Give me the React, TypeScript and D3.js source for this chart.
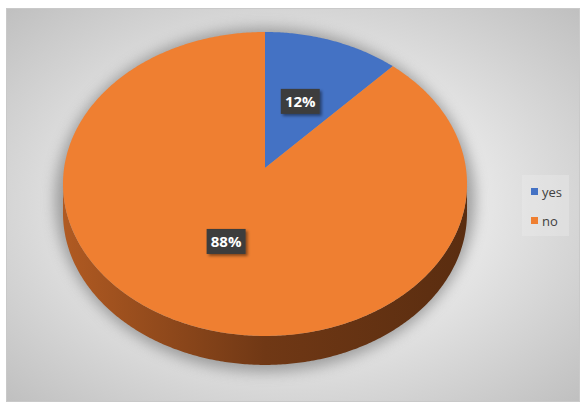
import React from "react";
import * as d3 from "d3";

const categories = ["yes", "no"];
const values = [12, 88];
const labels = ["12%", "88%"];
const colors = ["#4472C4", "#EF7F31"];
const sideColors = [
  ["#3a5f9e", "#25406e"],
  ["#b05a22", "#5a2d10"],
];

const W = 588;
const H = 407;
const cx = 265;
const vy = 168; // projected centre of the pie
const k = 0.105; // perspective strength
const s = 200.9; // horizontal radius scale
const a = 150.3; // vertical radius scale
const depth = 29;

function proj(theta: number, f = 1): [number, number] {
  const d = 1 + k * f * Math.cos(theta);
  return [cx + (s * f * Math.sin(theta)) / d, vy - (a * f * Math.cos(theta)) / d];
}

function arcPoints(t0: number, t1: number, dy = 0): [number, number][] {
  const n = Math.max(4, Math.ceil(Math.abs(t1 - t0) / 0.01));
  const pts: [number, number][] = [];
  for (let i = 0; i <= n; i++) {
    const t = t0 + ((t1 - t0) * i) / n;
    const [x, y] = proj(t);
    pts.push([x, y + dy]);
  }
  return pts;
}

export default function App() {
  const pie = d3.pie<number>().sort(null).value((d) => d).startAngle(0).endAngle(2 * Math.PI);
  const arcs = pie(values);
  const line = d3.line();

  const visLo = Math.acos(-k);
  const visHi = 2 * Math.PI - visLo;

  return (
    <svg width={W} height={H} style={{ position: "absolute", left: 0, top: 0 }}>
      <defs>
        <radialGradient id="bg" cx="50%" cy="50%" r="75%">
          <stop offset="0" stopColor="#efefef" />
          <stop offset="0.45" stopColor="#e6e6e6" />
          <stop offset="1" stopColor="#bbbbbb" />
        </radialGradient>
        <filter id="blur" x="-30%" y="-30%" width="160%" height="160%">
          <feGaussianBlur stdDeviation="7" />
        </filter>
        <filter id="lblShadow" x="-30%" y="-30%" width="160%" height="160%">
          <feDropShadow dx="2" dy="2" stdDeviation="1.5" floodColor="#000" floodOpacity="0.45" />
        </filter>
        {sideColors.map((c, i) => (
          <linearGradient key={i} id={`side${i}`} x1={cx - s} x2={cx + s} y1="0" y2="0" gradientUnits="userSpaceOnUse">
            <stop offset="0" stopColor={c[0]} />
            <stop offset="0.5" stopColor={d3.interpolateRgb(c[0], c[1])(0.75)} />
            <stop offset="1" stopColor={c[1]} />
          </linearGradient>
        ))}
      </defs>

      <rect x={0} y={0} width={W} height={H} fill="#ffffff" />
      <rect x={6.5} y={8.5} width={573} height={393} fill="url(#bg)" stroke="#c9c9c9" strokeWidth={1} />

      {/* pie shadow */}
      <ellipse cx={cx} cy={200} rx={210} ry={172} fill="#6f6f6f" opacity={0.6} filter="url(#blur)" />

      {/* side walls */}
      {arcs.map((d, i) => {
        const t0 = Math.max(d.startAngle, visLo);
        const t1 = Math.min(d.endAngle, visHi);
        if (t1 <= t0) return null;
        const top = arcPoints(t0, t1);
        const bot = arcPoints(t1, t0, depth);
        return <path key={"s" + i} d={line([...top, ...bot])! + "Z"} fill={`url(#side${i})`} />;
      })}

      {/* top faces */}
      {arcs.map((d, i) => {
        const pts = [[cx, vy] as [number, number], ...arcPoints(d.startAngle, d.endAngle)];
        return <path key={"t" + i} d={line(pts)! + "Z"} fill={colors[i]} />;
      })}

      {/* data labels */}
      {arcs.map((d, i) => {
        const mid = (d.startAngle + d.endAngle) / 2;
        const [x, y] = proj(mid, 0.5);
        const bw = 39;
        const bh = 25;
        return (
          <g key={"l" + i}>
            <rect x={x - bw / 2} y={y - bh / 2} width={bw} height={bh} fill="#3d3d3d" filter="url(#lblShadow)" />
            <text
              x={x}
              y={y + 5.5}
              textAnchor="middle"
              fill="#ffffff"
              fontFamily="'Open Sans', 'Liberation Sans', sans-serif"
              fontWeight="bold"
              fontSize={15}
            >
              {labels[i]}
            </text>
          </g>
        );
      })}

      {/* legend */}
      <rect x={522} y={175} width={47} height={61} fill="#eeeeee" opacity={0.35} />
      {categories.map((c, i) => (
        <g key={"lg" + i} transform={`translate(531, ${188 + i * 29})`}>
          <rect x={0} y={0} width={7} height={7} fill={colors[i]} />
          <text x={11} y={8.5} fontFamily="'Open Sans', 'Liberation Sans', sans-serif" fontSize={13} fill="#404040">
            {c}
          </text>
        </g>
      ))}
    </svg>
  );
}
